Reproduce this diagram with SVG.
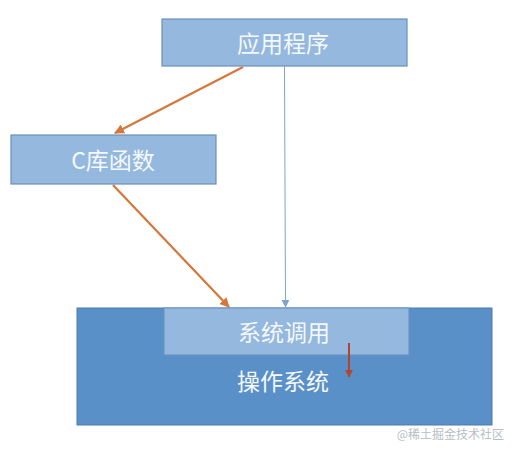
<svg xmlns="http://www.w3.org/2000/svg" width="515" height="451" viewBox="0 0 515 451">
<style>
.box{fill:#95b8de;stroke:#6a8fbc;stroke-width:1.2}
.lbl{font-family:"Noto Sans CJK SC","Liberation Sans",sans-serif;font-size:23px;fill:#f4f8fc;text-anchor:middle;dominant-baseline:central}
.or{stroke:#d5773a;stroke-width:2.2;fill:none}
</style>
<defs>
<marker id="ao" viewBox="0 0 10 10" refX="9" refY="5" markerWidth="4.5" markerHeight="4.5" orient="auto" markerUnits="strokeWidth"><path d="M0,0L10,5L0,10z" fill="#d5773a"/></marker>
<marker id="ab" viewBox="0 0 10 10" refX="9" refY="5" markerWidth="8" markerHeight="8" orient="auto" markerUnits="strokeWidth"><path d="M0,0L10,5L0,10z" fill="#7fa3cc"/></marker>
<marker id="ar" viewBox="0 0 10 10" refX="9" refY="5" markerWidth="4" markerHeight="4" orient="auto" markerUnits="strokeWidth"><path d="M0,0L10,5L0,10z" fill="#b2462c"/></marker>
</defs>
<rect width="515" height="451" fill="#fff"/>
<g id="os">
<rect x="77" y="308" width="415" height="117" fill="#5a90c8" stroke="#4a7bb0" stroke-width="1"/>
<text class="lbl" x="283" y="380">操作系统</text>
</g>
<g id="syscall">
<rect x="164" y="308" width="245" height="47" fill="#95b8de" stroke="#6a8fbc" stroke-width="1"/>
<text class="lbl" x="284" y="331">系统调用</text>
</g>
<g id="app">
<rect class="box" x="162" y="19" width="245" height="47"/>
<text class="lbl" x="283" y="42">应用程序</text>
</g>
<g id="clib">
<rect class="box" x="11" y="135" width="205" height="49"/>
<text class="lbl" x="113" y="159">C库函数</text>
</g>
<g id="connectors">
<line class="or" x1="243" y1="67" x2="115" y2="133" marker-end="url(#ao)"/>
<line class="or" x1="113" y1="185" x2="229" y2="307" marker-end="url(#ao)"/>
<line x1="284.5" y1="66" x2="285.5" y2="307" stroke="#7fa3cc" stroke-width="1" marker-end="url(#ab)"/>
<line x1="349" y1="343" x2="349" y2="377" stroke="#b2462c" stroke-width="2" marker-end="url(#ar)"/>
</g>
<text x="504" y="433" font-family="Noto Sans CJK SC,Liberation Sans,sans-serif" font-size="12" fill="#b8bcc4" text-anchor="end" dominant-baseline="central">@稀土掘金技术社区</text>
</svg>
